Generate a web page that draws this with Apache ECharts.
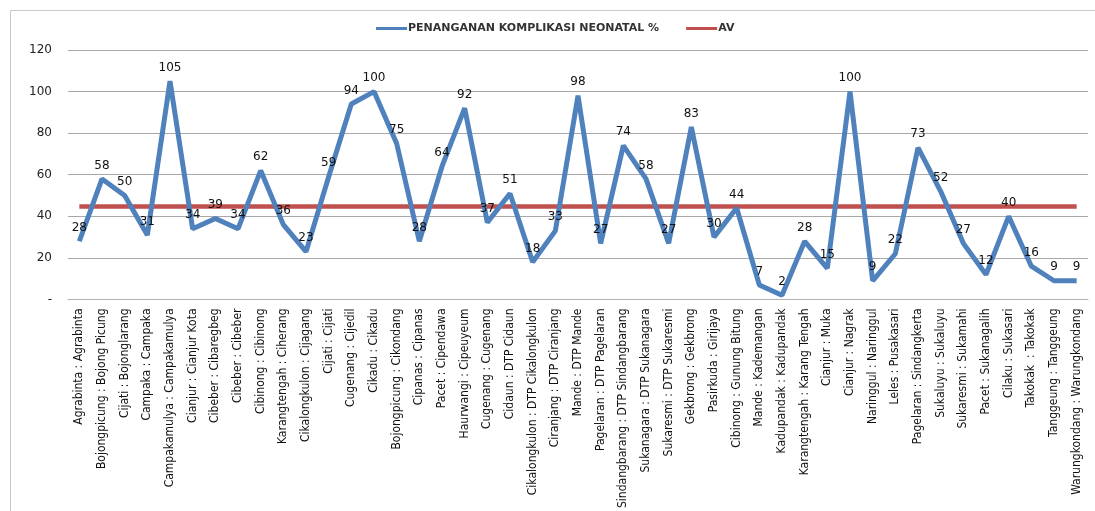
<!DOCTYPE html>
<html>
<head>
<meta charset="utf-8">
<script src="https://cdn.jsdelivr.net/npm/echarts@6/dist/echarts.min.js"></script>
<style>
  html, body { margin: 0; padding: 0; background: #fff; }
  #chart { width: 1095px; height: 511px; }
</style>
</head>
<body>
<div id="chart"></div>
<script>
// Puskesmas / desa pairs along the category axis
const categories = [
  'Agrabinta : Agrabinta', 'Bojongpicung : Bojong Picung', 'Cijati : Bojonglarang', 'Campaka : Campaka',
  'Campakamulya : Campakamulya', 'Cianjur : Cianjur Kota', 'Cibeber : Cibaregbeg', 'Cibeber : Cibeber',
  'Cibinong : Cibinong', 'Karangtengah : Ciherang', 'Cikalongkulon : Cijagang', 'Cijati : Cijati',
  'Cugenang : Cijedil', 'Cikadu : Cikadu', 'Bojongpicung : Cikondang', 'Cipanas : Cipanas',
  'Pacet : Cipendawa', 'Haurwangi : Cipeuyeum', 'Cugenang : Cugenang', 'Cidaun : DTP Cidaun',
  'Cikalongkulon : DTP Cikalongkulon', 'Ciranjang : DTP Ciranjang', 'Mande : DTP Mande', 'Pagelaran : DTP Pagelaran',
  'Sindangbarang : DTP Sindangbarang', 'Sukanagara : DTP Sukanagara', 'Sukaresmi : DTP Sukaresmi', 'Gekbrong : Gekbrong',
  'Pasirkuda : Girijaya', 'Cibinong : Gunung Bitung', 'Mande : Kademangan', 'Kadupandak : Kadupandak',
  'Karangtengah : Karang Tengah', 'Cianjur : Muka', 'Cianjur : Nagrak', 'Naringgul : Naringgul',
  'Leles : Pusakasari', 'Pagelaran : Sindangkerta', 'Sukaluyu : Sukaluyu', 'Sukaresmi : Sukamahi',
  'Pacet : Sukanagalih', 'Cilaku : Sukasari', 'Takokak  : Takokak', 'Tanggeung : Tanggeung',
  'Warungkondang : Warungkondang'
];

// Penanganan komplikasi neonatal (%)
const neonatal = [
  28, 58, 50, 31, 105, 34, 39, 34, 62, 36, 23, 59,
  94, 100, 75, 28, 64, 92, 37, 51, 18, 33, 98, 27,
  74, 58, 27, 83, 30, 44, 7, 2, 28, 15, 100, 9,
  22, 73, 52, 27, 12, 40, 16, 9, 9
];

// Average level (flat reference line)
const avValue = 44.7;
const av = categories.map(() => avValue);

// Y axis ticks
const yTicks = [0, 20, 40, 60, 80, 100, 120];

const BLUE = '#4F81BD';
const RED = '#C0504D';

const chart = echarts.init(document.getElementById('chart'), null, { renderer: 'canvas' });

chart.setOption({
  animation: false,
  backgroundColor: '#fff',
  graphic: [{
    type: 'rect',
    shape: { x: 10.5, y: 10.5, width: 1100, height: 520 },
    style: { fill: 'none', stroke: '#c8c8c8', lineWidth: 1 },
    silent: true
  }],
  legend: {
    top: 18,
    left: 371,
    itemGap: 27,
    itemWidth: 31,
    itemHeight: 3,
    icon: 'rect',
    textStyle: { fontFamily: 'DejaVu Sans', fontWeight: 'bold', fontSize: 11, color: '#333', padding: [0, 0, 0, -4] },
    data: [
      { name: 'PENANGANAN KOMPLIKASI NEONATAL %', itemStyle: { color: BLUE, opacity: 1 } },
      { name: 'AV', itemStyle: { color: RED, opacity: 1 } }
    ]
  },
  grid: { left: 68, right: 7, top: 50, bottom: 185, containLabel: false },
  xAxis: {
    type: 'category',
    data: categories,
    boundaryGap: true,
    axisLine: { show: true, lineStyle: { color: '#b0b0b0', width: 1 } },
    axisTick: { show: false },
    axisLabel: {
      interval: 0,
      rotate: 90,
      margin: 9,
      fontFamily: 'Liberation Sans Narrow, DejaVu Sans Condensed, sans-serif',
      fontSize: 12,
      color: '#111'
    }
  },
  yAxis: {
    type: 'value',
    min: yTicks[0],
    max: yTicks[yTicks.length - 1],
    interval: 20,
    axisLine: { show: false },
    axisTick: { show: false },
    splitLine: { lineStyle: { color: '#a8a8a8', width: 1 } },
    axisLabel: {
      margin: 16,
      fontFamily: 'DejaVu Sans',
      fontSize: 12,
      color: '#222',
      formatter: v => (v === 0 ? '-' : String(v))
    }
  },
  series: [
    {
      name: 'PENANGANAN KOMPLIKASI NEONATAL %',
      type: 'line',
      data: neonatal,
      color: BLUE,
      symbol: 'circle',
      symbolSize: 1,
      showSymbol: true,
      itemStyle: { opacity: 0 },
      lineStyle: { color: BLUE, width: 5 },
      label: {
        show: true,
        position: 'top',
        distance: 7,
        opacity: 1,
        fontFamily: 'DejaVu Sans',
        fontSize: 12,
        color: '#111'
      },
      labelLayout: { hideOverlap: false },
      z: 3
    },
    {
      name: 'AV',
      type: 'line',
      data: av,
      color: RED,
      symbol: 'none',
      lineStyle: { color: RED, width: 4.5 },
      z: 2
    }
  ]
});
</script>
</body>
</html>
